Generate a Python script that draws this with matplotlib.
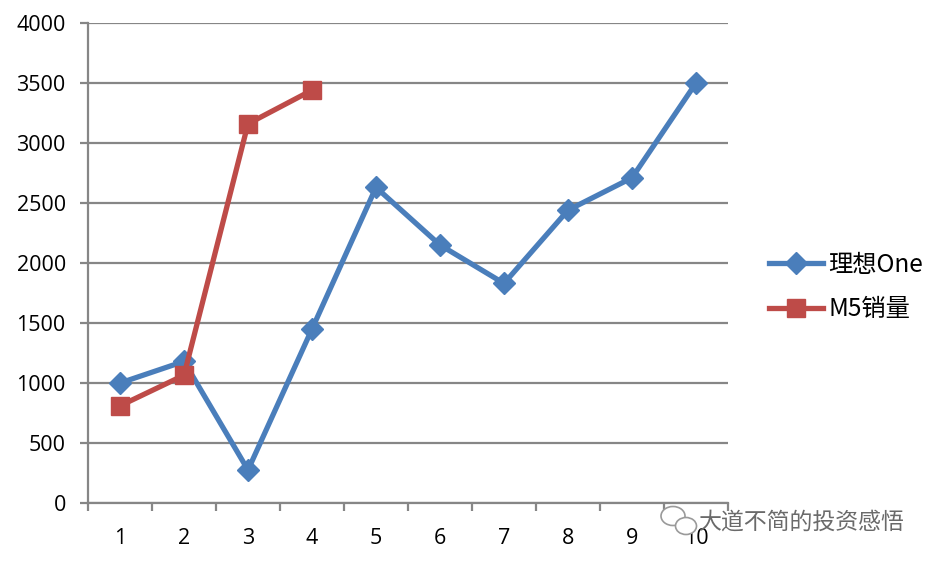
import matplotlib
matplotlib.use("Agg")
import matplotlib.pyplot as plt
from matplotlib.patches import Ellipse
import numpy as np

plt.rcParams['font.family'] = ['Open Sans', 'Noto Sans CJK SC', 'DejaVu Sans']

categories = ['1', '2', '3', '4', '5', '6', '7', '8', '9', '10']
lixiang_one = [1000, 1180, 275, 1450, 2630, 2150, 1830, 2440, 2710, 3500]
m5_sales = [810, 1065, 3160, 3440]
yticks = [0, 500, 1000, 1500, 2000, 2500, 3000, 3500, 4000]
series_names = ['理想One', 'M5销量']

blue = '#4a7ebb'
red = '#be4b48'
grid_c = '#868686'

fig = plt.figure(figsize=(9.38, 5.63), dpi=100)
ax = fig.add_axes([88/938, 60/563, 640/938, 480/563])

x = np.arange(1, len(categories) + 1)
ax.plot(x, lixiang_one, color=blue, lw=3.8, marker='D', ms=11.5,
        markerfacecolor=blue, markeredgecolor=blue, label=series_names[0],
        solid_joinstyle='round', zorder=3)
ax.plot(x[:len(m5_sales)], m5_sales, color=red, lw=3.8, marker='s', ms=12.5,
        markerfacecolor=red, markeredgecolor=red, label=series_names[1],
        solid_joinstyle='round', zorder=4)

ax.set_xlim(0.5, len(categories) + 0.5)
ax.set_ylim(0, 4000)
ax.set_yticks(yticks)
ax.set_yticklabels([str(v) for v in yticks], fontsize=15.5)
ax.yaxis.grid(True, color=grid_c, lw=1.6)
ax.set_axisbelow(True)

ax.set_xticks(x)
ax.set_xticklabels(categories, fontsize=15.5)
ax.set_xticks(np.arange(0.5, len(categories) + 1), minor=True)
ax.tick_params(axis='x', which='major', length=0, pad=18)
ax.tick_params(axis='x', which='minor', length=6, width=1.6, color=grid_c, direction='out')
ax.tick_params(axis='y', length=6, width=1.6, color=grid_c, direction='out', pad=10)

for s in ['top', 'right']:
    ax.spines[s].set_visible(False)
for s in ['left', 'bottom']:
    ax.spines[s].set_color(grid_c)
    ax.spines[s].set_linewidth(1.6)

leg = ax.legend(loc='center left', bbox_to_anchor=(1.03, 0.45), frameon=False,
                prop={'family': ['Noto Sans CJK SC', 'DejaVu Sans'], 'size': 17.5},
                handlelength=2.2, labelspacing=0.75, handletextpad=0.25)

# watermark
fig.text(0.745, 0.073, '大道不简的投资感悟', fontsize=16.5, color='#6a6a6a',
         family=['Noto Sans CJK SC', 'DejaVu Sans'], va='center', ha='left')
e1 = Ellipse((673/938, 1 - 516/563), 24/938, 19/563, transform=fig.transFigure,
             facecolor='white', edgecolor='#9a9a9a', lw=1.2, zorder=5)
e2 = Ellipse((686/938, 1 - 526/563), 21/938, 17/563, transform=fig.transFigure,
             facecolor='white', edgecolor='#9a9a9a', lw=1.2, zorder=6)
fig.patches.extend([e1, e2])

fig.savefig('out.png', dpi=100)
